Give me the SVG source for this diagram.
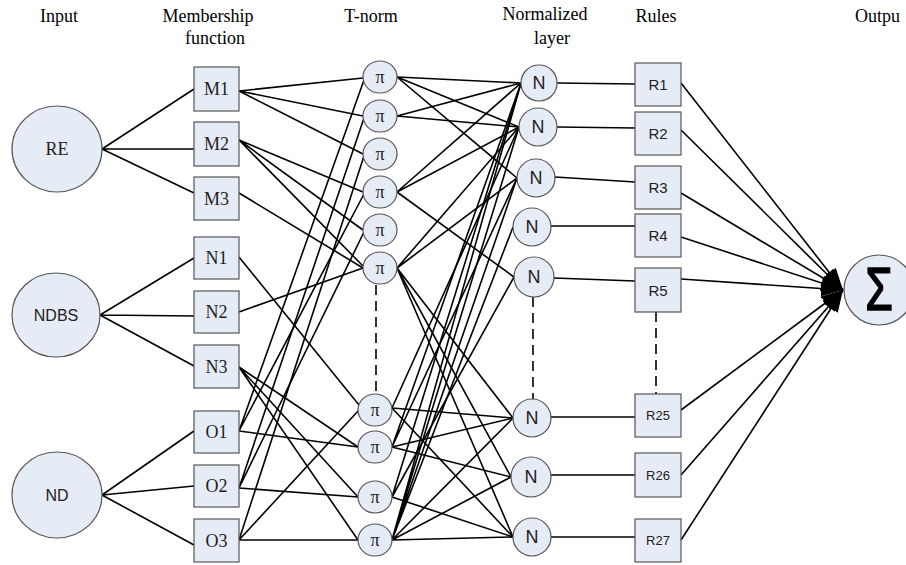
<svg xmlns="http://www.w3.org/2000/svg" width="906" height="565" viewBox="0 0 906 565">
<style>
.hdr{font-family:"Liberation Serif","Times New Roman",serif;font-size:18px;fill:#000;text-anchor:middle}
.nd{fill:#E6ECF6;stroke:#555;stroke-width:1.2}
.ser{font-family:"Liberation Serif","Times New Roman",serif;fill:#222;text-anchor:middle;dominant-baseline:central}
.san{font-family:"Liberation Sans",Arial,sans-serif;fill:#222;text-anchor:middle;dominant-baseline:central}
.ln{stroke:#000;stroke-width:1.6;fill:none}
.dash{stroke:#000;stroke-width:1.6;fill:none;stroke-dasharray:10 6}
.ar{stroke:#000;stroke-width:1.6;fill:none;marker-end:url(#ah)}
</style>
<defs>
<marker id="ah" markerUnits="userSpaceOnUse" markerWidth="24" markerHeight="18" refX="22" refY="8" orient="auto">
<path d="M0,0 L22,8 L0,16 Z" fill="#000"/>
</marker>
</defs>

<g id="headers">
<text class="hdr" x="59" y="22">Input</text>
<text class="hdr" x="208" y="22">Membership</text>
<text class="hdr" x="215" y="44">function</text>
<text class="hdr" x="371" y="22">T-norm</text>
<text class="hdr" x="545" y="20">Normalized</text>
<text class="hdr" x="552" y="44">layer</text>
<text class="hdr" x="656" y="22">Rules</text>
<text class="hdr" x="855" y="22" style="text-anchor:start">Outpu</text>
</g>

<g id="connectors">
<!-- inputs to membership -->
<path class="ln" d="M102,149 L194,89 M102,149 L194,149 M102,149 L194,193"/>
<path class="ln" d="M100,315 L194,258 M100,315 L194,316 M100,315 L194,366"/>
<path class="ln" d="M102,495 L194,431 M102,495 L194,486 M102,495 L194,545"/>
<!-- membership to T-norm -->
<path class="ln" d="M239,91 L363,78 M239,91 L363,116 M239,91 L363,154"/>
<path class="ln" d="M239,140 L363,192 M239,140 L363,230 M239,140 L363,266"/>
<path class="ln" d="M239,193 L363,268"/>
<path class="ln" d="M239,257 L359,405"/>
<path class="ln" d="M239,312 L363,268"/>
<path class="ln" d="M239,367 L358,447 M239,367 L358,497 M239,367 L358,540"/>
<path class="ln" d="M239,431 L364,80 M239,431 L364,194 M239,431 L358,447"/>
<path class="ln" d="M239,488 L364,118 M239,488 L364,232 M239,488 L358,497"/>
<path class="ln" d="M239,540 L364,156 M239,540 L359,410 M239,540 L358,540"/>
<!-- T-norm to normalized -->
<path class="ln" d="M397,77 L521,83 M397,77 L519,127 M397,77 L517,178"/>
<path class="ln" d="M397,116 L521,83 M397,116 L519,127"/>
<path class="ln" d="M397,192 L521,83 M397,192 L519,127 M397,192 L514,277"/>
<path class="ln" d="M397,268 L519,127 M397,268 L517,178 M397,268 L513,418 M397,268 L511,477 M397,268 L513,537"/>
<path class="ln" d="M392,408 L519,127 M392,408 L513,418 M392,408 L513,537"/>
<path class="ln" d="M392,447 L521,83 M392,447 L517,178 M392,447 L513,418 M392,447 L511,477"/>
<path class="ln" d="M392,497 L521,83 M392,497 L514,277 M392,497 L513,537"/>
<path class="ln" d="M392,540 L521,83 M392,540 L519,127 M392,540 L517,178 M392,540 L513,227 M392,540 L513,418 M392,540 L511,477 M392,540 L513,537"/>
<!-- normalized to rules -->
<path class="ln" d="M557,83 L635,84 M557,127 L635,128 M555,177 L635,182 M551,226 L635,226 M554,278 L635,281 M551,417 L635,417 M551,475 L635,475 M551,537 L635,537"/>
<!-- dashed continuations -->
<path class="dash" d="M376,285 L376,393 M533,297 L533,399 M656,312 L656,394"/>
<!-- rules to output -->
<path class="ar" d="M681,83 L843,290"/>
<path class="ar" d="M681,130 L843,290"/>
<path class="ar" d="M681,193 L843,290"/>
<path class="ar" d="M681,237 L843,290"/>
<path class="ar" d="M681,279 L843,290"/>
<path class="ar" d="M681,410 L843,290"/>
<path class="ar" d="M681,475 L843,290"/>
<path class="ar" d="M681,540 L843,290"/>
</g>

<g id="RE"><ellipse class="nd" cx="57" cy="149" rx="45" ry="43"/><text class="ser" x="57" y="149" font-size="18">RE</text></g>
<g id="NDBS"><ellipse class="nd" cx="56" cy="315" rx="44" ry="42"/><text class="san" x="56" y="315" font-size="16">NDBS</text></g>
<g id="ND"><ellipse class="nd" cx="57" cy="495" rx="45" ry="43"/><text class="san" x="57" y="495" font-size="16">ND</text></g>

<g id="M1"><rect class="nd" x="194" y="67" width="45" height="44"/><text class="ser" x="216.5" y="89" font-size="18">M1</text></g>
<g id="M2"><rect class="nd" x="194" y="122" width="45" height="44"/><text class="ser" x="216.5" y="144" font-size="18">M2</text></g>
<g id="M3"><rect class="nd" x="194" y="177" width="45" height="43"/><text class="ser" x="216.5" y="198.5" font-size="18">M3</text></g>
<g id="N1"><rect class="nd" x="194" y="237" width="45" height="42"/><text class="ser" x="216.5" y="258" font-size="18">N1</text></g>
<g id="N2"><rect class="nd" x="194" y="291" width="45" height="42"/><text class="ser" x="216.5" y="312" font-size="18">N2</text></g>
<g id="N3"><rect class="nd" x="194" y="345" width="45" height="43"/><text class="ser" x="216.5" y="366.5" font-size="18">N3</text></g>
<g id="O1"><rect class="nd" x="194" y="411" width="45" height="42"/><text class="ser" x="216.5" y="432" font-size="18">O1</text></g>
<g id="O2"><rect class="nd" x="194" y="465" width="45" height="42"/><text class="ser" x="216.5" y="486" font-size="18">O2</text></g>
<g id="O3"><rect class="nd" x="194" y="519" width="45" height="43"/><text class="ser" x="216.5" y="540.5" font-size="18">O3</text></g>

<g id="P1"><ellipse class="nd" cx="380" cy="77" rx="17" ry="16"/><text class="ser" x="380" y="77" font-size="18">π</text></g>
<g id="P2"><ellipse class="nd" cx="380" cy="116" rx="17" ry="16"/><text class="ser" x="380" y="116" font-size="18">π</text></g>
<g id="P3"><ellipse class="nd" cx="380" cy="154" rx="17" ry="16"/><text class="ser" x="380" y="154" font-size="18">π</text></g>
<g id="P4"><ellipse class="nd" cx="380" cy="192" rx="17" ry="16"/><text class="ser" x="380" y="192" font-size="18">π</text></g>
<g id="P5"><ellipse class="nd" cx="380" cy="230" rx="17" ry="16"/><text class="ser" x="380" y="230" font-size="18">π</text></g>
<g id="P6"><ellipse class="nd" cx="380" cy="268" rx="17" ry="16"/><text class="ser" x="380" y="268" font-size="18">π</text></g>
<g id="P7"><ellipse class="nd" cx="375" cy="410" rx="17" ry="16"/><text class="ser" x="375" y="410" font-size="18">π</text></g>
<g id="P8"><ellipse class="nd" cx="375" cy="447" rx="17" ry="16"/><text class="ser" x="375" y="447" font-size="18">π</text></g>
<g id="P9"><ellipse class="nd" cx="375" cy="497" rx="17" ry="16"/><text class="ser" x="375" y="497" font-size="18">π</text></g>
<g id="P10"><ellipse class="nd" cx="375" cy="540" rx="17" ry="16"/><text class="ser" x="375" y="540" font-size="18">π</text></g>

<g id="NN1"><circle class="nd" cx="539" cy="83" r="18"/><text class="san" x="539" y="83" font-size="18">N</text></g>
<g id="NN2"><circle class="nd" cx="538" cy="127" r="19"/><text class="san" x="538" y="127" font-size="18">N</text></g>
<g id="NN3"><circle class="nd" cx="536" cy="178" r="19"/><text class="san" x="536" y="178" font-size="18">N</text></g>
<g id="NN4"><circle class="nd" cx="532" cy="227" r="19"/><text class="san" x="532" y="227" font-size="18">N</text></g>
<g id="NN5"><circle class="nd" cx="534" cy="277" r="20"/><text class="san" x="534" y="277" font-size="18">N</text></g>
<g id="NN6"><circle class="nd" cx="532" cy="418" r="19"/><text class="san" x="532" y="418" font-size="18">N</text></g>
<g id="NN7"><circle class="nd" cx="531" cy="477" r="20"/><text class="san" x="531" y="477" font-size="18">N</text></g>
<g id="NN8"><circle class="nd" cx="532" cy="537" r="19"/><text class="san" x="532" y="537" font-size="18">N</text></g>

<g id="R1"><rect class="nd" x="635" y="63" width="46" height="43"/><text class="san" x="658" y="84.5" font-size="15">R1</text></g>
<g id="R2"><rect class="nd" x="635" y="112" width="46" height="43"/><text class="san" x="658" y="133.5" font-size="15">R2</text></g>
<g id="R3"><rect class="nd" x="635" y="166" width="46" height="43"/><text class="san" x="658" y="187.5" font-size="15">R3</text></g>
<g id="R4"><rect class="nd" x="635" y="214" width="46" height="43"/><text class="san" x="658" y="235.5" font-size="15">R4</text></g>
<g id="R5"><rect class="nd" x="635" y="268" width="46" height="44"/><text class="san" x="658" y="290" font-size="15">R5</text></g>
<g id="R25"><rect class="nd" x="635" y="394" width="46" height="43"/><text class="san" x="658" y="415.5" font-size="13">R25</text></g>
<g id="R26"><rect class="nd" x="635" y="453" width="46" height="44"/><text class="san" x="658" y="475" font-size="13">R26</text></g>
<g id="R27"><rect class="nd" x="635" y="519" width="46" height="43"/><text class="san" x="658" y="540.5" font-size="13">R27</text></g>

<g id="OUT"><circle class="nd" cx="879" cy="290" r="35"/><text x="879" y="310" font-family="Liberation Sans,Arial,sans-serif" font-size="62" text-anchor="middle" transform="translate(879,290) scale(0.72,1) translate(-879,-290)" fill="#000" stroke="#000" stroke-width="1.6">Σ</text></g>
</svg>
